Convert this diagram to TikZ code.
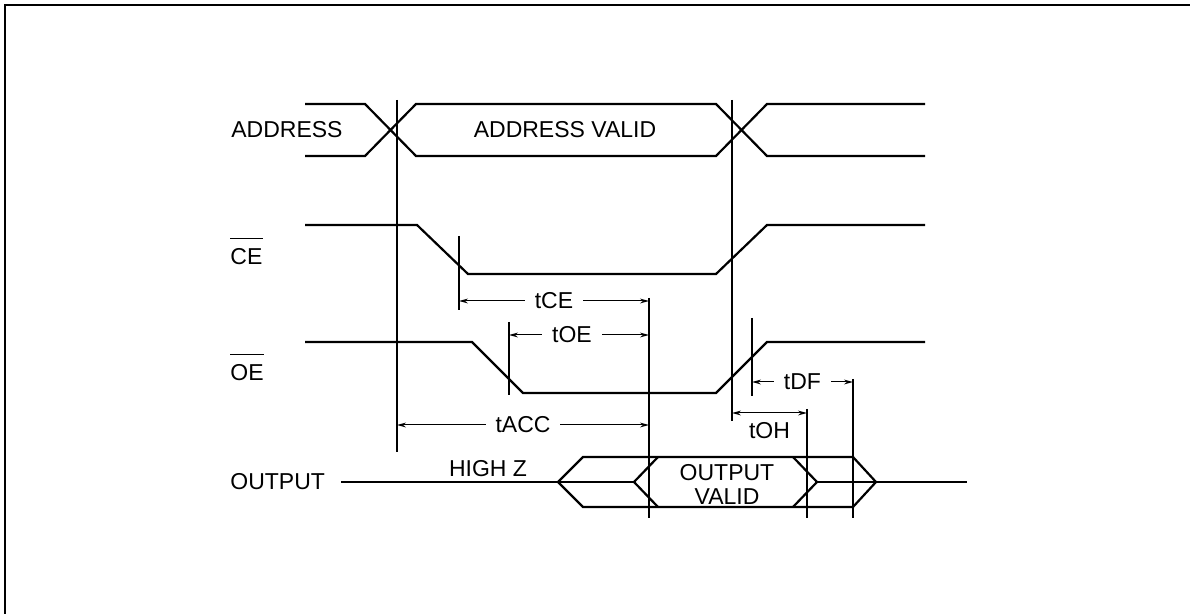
\documentclass[tikz,border=0pt]{standalone}
\usepackage{fontspec}
\setmainfont{Liberation Sans}
\usetikzlibrary{arrows.meta}

\tikzset{
	wave/.style={line width=1.1pt, line join=miter},
	markline/.style={line width=1pt},
	dim/.style={line width=0.5pt, {Stealth[length=4.5pt,width=2.4pt]}-{Stealth[length=4.5pt,width=2.4pt]}},
	lbl/.style={inner sep=0pt, font=\fontsize{11.5}{12}\selectfont},
	gap/.style={lbl, fill=white, inner xsep=5pt, inner ysep=1pt},
}

\begin{document}
\begin{tikzpicture}[x=0.5pt, y=-0.5pt]
	\useasboundingbox (0,0) rectangle (1190,614);

	% Frame
	\draw[line width=1.3pt] (5,614) -- (5,5) -- (1190,5);

	% Signal names
	\node[lbl, anchor=west] (address) at (231,130) {ADDRESS};
	\node[lbl, anchor=west] (ce) at (230,257) {CE};
	\node[lbl, anchor=west] (oe) at (230,373) {OE};
	\node[lbl, anchor=west] (output) at (230,482) {OUTPUT};
	\draw[line width=0.6pt] ([yshift=5pt]ce.north west) -- ([yshift=5pt]ce.north east);
	\draw[line width=0.6pt] ([yshift=5pt]oe.north west) -- ([yshift=5pt]oe.north east);

	% Address
	\draw[wave] (305,104) -- (365,104) -- (416,156) -- (716,156) -- (767,104) -- (925,104);
	\draw[wave] (305,156) -- (365,156) -- (416,104) -- (716,104) -- (767,156) -- (925,156);
	\node[lbl] (addrvalid) at (565,130) {ADDRESS VALID};

	% Chip enable
	\draw[wave] (305,225) -- (417,225) -- (468,274) -- (716,274) -- (767,225) -- (925,225);

	% Output enable
	\draw[wave] (305,342) -- (472,342) -- (523,393) -- (716,393) -- (767,342) -- (925,342);

	% Output
	\draw[wave] ([xshift=8pt]output.east) -- (634,482);
	\draw[wave] (558,482) -- (583,457) -- (853,457) -- (876,482) -- (853,507) -- (583,507) -- cycle;
	\draw[wave] (658,457) -- (634,482) -- (658,507);
	\draw[wave] (793,457) -- (817,482) -- (793,507);
	\draw[wave] (817,482) -- (967,482);
	\node[lbl] (highz) at (488,469) {HIGH Z};
	\node[lbl, align=center] (outvalid) at (727,484) {OUTPUT\\VALID};

	% Timing marks
	\foreach \name/\x/\top/\bot in {a/397/100/452, b/732/100/421, c/459/236/310, d/509/322/395,
			e/649/298/518, f/752/318/396, g/807/409/518, h/853/379/518} {
		\coordinate (t\name) at (\x,\top);
		\coordinate (b\name) at (\x,\bot);
		\draw[markline] (t\name) -- (b\name);
	}

	% Timing parameters
	\draw[dim] (tc |- 0,301) -- node[gap] (tce) {tCE} (te |- 0,301);
	\draw[dim] (td |- 0,335) -- node[gap, pos=0.45] (toe) {tOE} (te |- 0,335);
	\draw[dim] (ta |- 0,425) -- node[gap] (tacc) {tACC} (te |- 0,425);
	\draw[dim] (tf |- 0,382) -- node[gap] (tdf) {tDF} (th |- 0,382);
	\draw[dim] (tb |- 0,413) -- node[lbl, yshift=-9pt] (toh) {tOH} (tg |- 0,413);
\end{tikzpicture}
\end{document}
